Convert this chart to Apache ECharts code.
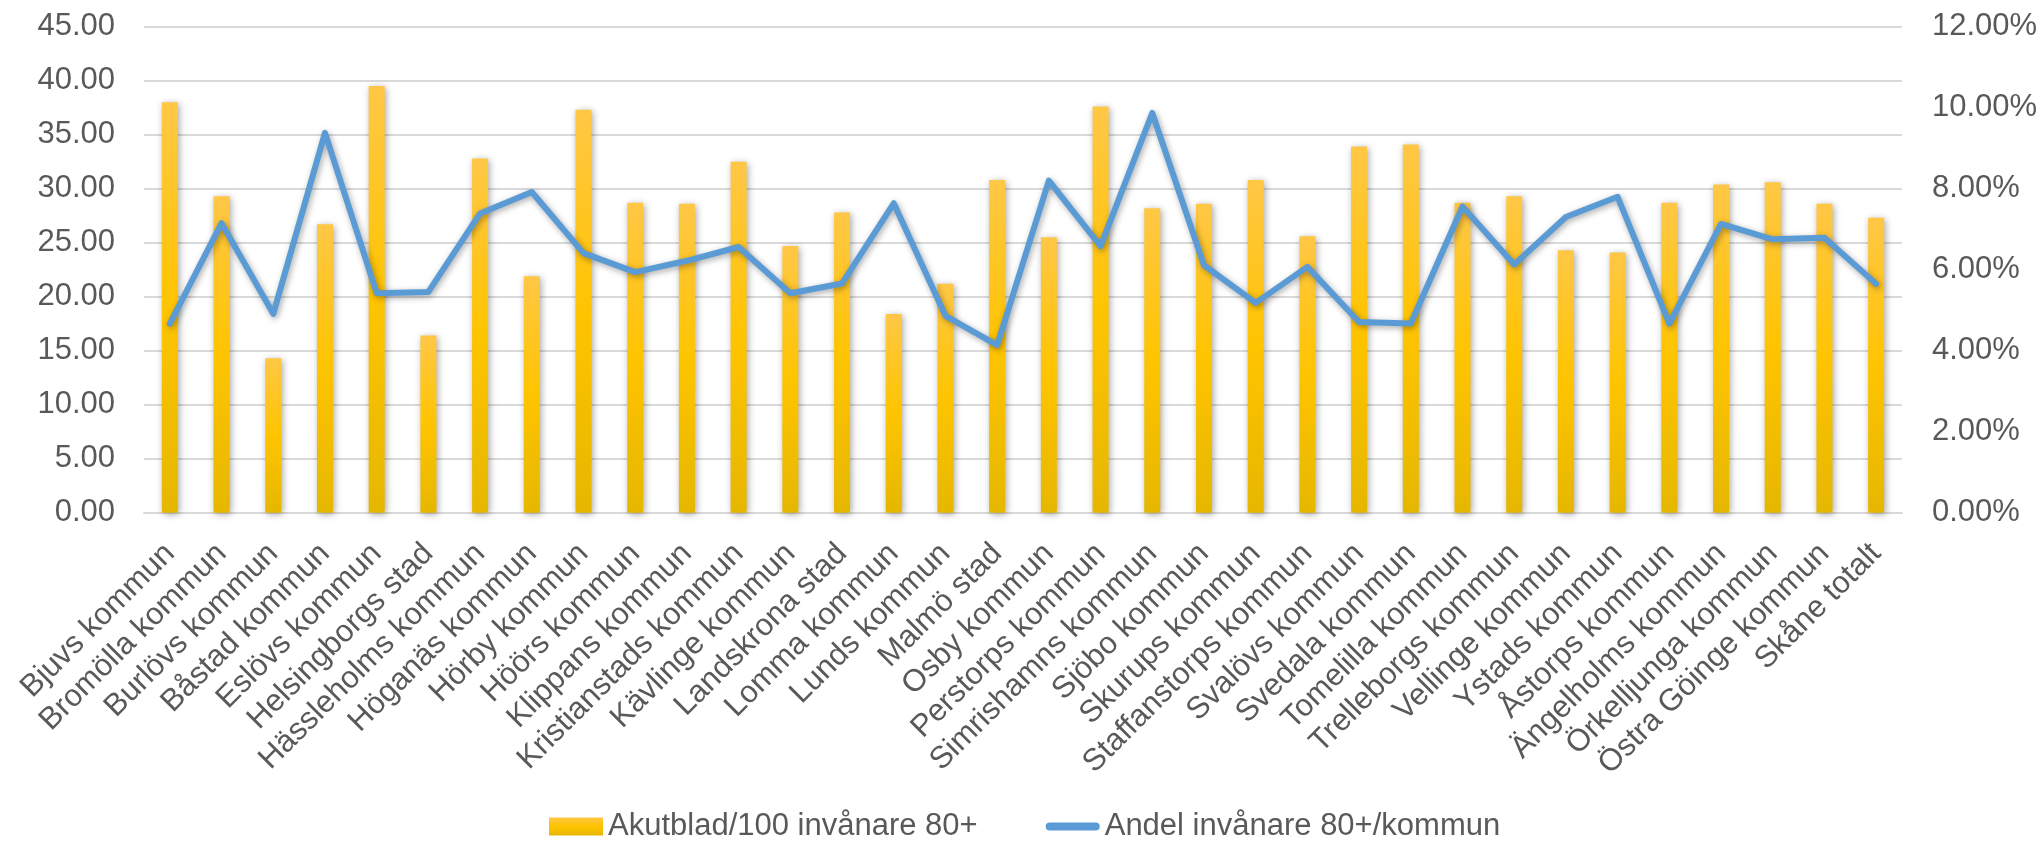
<!DOCTYPE html>
<html>
<head>
<meta charset="utf-8">
<script src="https://cdn.jsdelivr.net/npm/echarts@6/dist/echarts.min.js"></script>
<style>
html,body{margin:0;padding:0;background:#fff;}
#chart{width:2041px;height:842px;}
</style>
</head>
<body>
<div id="chart"></div>
<script>
const categories = [
  "Bjuvs kommun","Bromölla kommun","Burlövs kommun","Båstad kommun","Eslövs kommun",
  "Helsingborgs stad","Hässleholms kommun","Höganäs kommun","Hörby kommun","Höörs kommun",
  "Klippans kommun","Kristianstads kommun","Kävlinge kommun","Landskrona stad","Lomma kommun",
  "Lunds kommun","Malmö stad","Osby kommun","Perstorps kommun","Simrishamns kommun",
  "Sjöbo kommun","Skurups kommun","Staffanstorps kommun","Svalövs kommun","Svedala kommun",
  "Tomelilla kommun","Trelleborgs kommun","Vellinge kommun","Ystads kommun","Åstorps kommun",
  "Ängelholms kommun","Örkelljunga kommun","Östra Göinge kommun","Skåne totalt"
];
const akutblad = [
  38.0, 29.3, 14.3, 26.7, 39.5,
  16.4, 32.8, 21.9, 37.3, 28.7,
  28.6, 32.5, 24.7, 27.8, 18.4,
  21.2, 30.8, 25.5, 37.6, 28.2,
  28.6, 30.8, 25.6, 33.9, 34.1,
  28.7, 29.3, 24.3, 24.1, 28.7,
  30.4, 30.6, 28.6, 27.3
];
const andel = [
  0.0467, 0.0715, 0.0491, 0.0938, 0.0542,
  0.0545, 0.0739, 0.0792, 0.0641, 0.0594,
  0.0622, 0.0656, 0.0542, 0.0566, 0.0764,
  0.0486, 0.0414, 0.0820, 0.0658, 0.0987,
  0.0611, 0.0518, 0.0607, 0.0471, 0.0467,
  0.0756, 0.0613, 0.0730, 0.0780, 0.0467,
  0.0713, 0.0675, 0.0679, 0.0565
];
const seriesNames = ["Akutblad/100 invånare 80+", "Andel invånare 80+/kommun"];
const leftAxis = {min: 0, max: 45, interval: 5};
const rightAxis = {min: 0, max: 0.12, interval: 0.02};

const FONT = "'Liberation Sans', Arial, sans-serif";
const TXT = '#595959';
const GRID = '#D9D9D9';
const BLUE = '#5B9BD5';

const chart = echarts.init(document.getElementById('chart'), null, {renderer: 'canvas'});
chart.setOption({
  animation: false,
  backgroundColor: '#ffffff',
  textStyle: {fontFamily: FONT},
  grid: {left: 144, right: 139, top: 26.7, bottom: 329.3, containLabel: false},
  legend: {
    data: [
      {name: seriesNames[0], icon: 'rect'},
      {name: seriesNames[1],
       icon: 'path://M4,0 L50,0 A4,4 0 0 1 50,8 L4,8 A4,4 0 0 1 4,0 Z',
       itemStyle: {color: BLUE, borderWidth: 0}}
    ],
    left: 544,
    top: 806,
    itemWidth: 54,
    itemHeight: 18,
    itemGap: 68,
    textStyle: {fontSize: 31, color: TXT, fontFamily: FONT}
  },
  xAxis: {
    type: 'category',
    data: categories,
    boundaryGap: true,
    axisTick: {show: false},
    axisLine: {show: true, lineStyle: {color: GRID, width: 2}},
    axisLabel: {
      rotate: 45,
      interval: 0,
      margin: 36,
      fontSize: 31,
      color: TXT,
      fontFamily: FONT
    }
  },
  yAxis: [
    {
      type: 'value',
      min: leftAxis.min, max: leftAxis.max, interval: leftAxis.interval,
      axisLine: {show: false},
      axisTick: {show: false},
      splitLine: {show: true, lineStyle: {color: GRID, width: 2}},
      axisLabel: {
        margin: 29, fontSize: 31, color: TXT, fontFamily: FONT,
        formatter: v => v.toFixed(2)
      }
    },
    {
      type: 'value',
      position: 'right',
      min: rightAxis.min, max: rightAxis.max, interval: rightAxis.interval,
      axisLine: {show: false},
      axisTick: {show: false},
      splitLine: {show: false},
      axisLabel: {
        margin: 30, fontSize: 31, color: TXT, fontFamily: FONT,
        formatter: v => (v * 100).toFixed(2) + '%'
      }
    }
  ],
  series: [
    {
      name: seriesNames[0],
      type: 'bar',
      yAxisIndex: 0,
      data: akutblad,
      barWidth: 16,
      itemStyle: {
        color: new echarts.graphic.LinearGradient(0, 0, 0, 1, [
          {offset: 0, color: '#FFC746'},
          {offset: 0.5, color: '#FFC400'},
          {offset: 1, color: '#E6B700'}
        ]),
        shadowColor: 'rgba(0,0,0,0.35)',
        shadowBlur: 7,
        shadowOffsetX: 1.5,
        shadowOffsetY: 1.5
      },
      z: 2
    },
    {
      name: seriesNames[1],
      type: 'line',
      yAxisIndex: 1,
      data: andel,
      symbol: 'none',
      showSymbol: false,
      color: BLUE,
      itemStyle: {color: BLUE},
      lineStyle: {
        color: BLUE,
        width: 6,
        cap: 'round',
        join: 'round',
        shadowColor: 'rgba(0,0,0,0.35)',
        shadowBlur: 6,
        shadowOffsetX: 1.5,
        shadowOffsetY: 2
      },
      z: 3
    }
  ]
});
</script>
</body>
</html>
